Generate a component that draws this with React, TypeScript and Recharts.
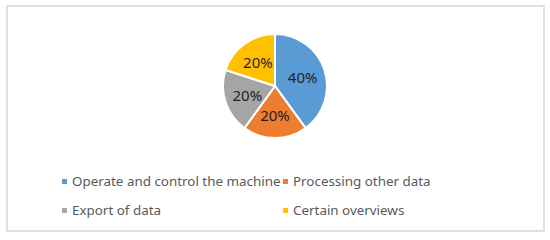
import { Cell, Legend, Pie, PieChart } from 'recharts';

const categories = ['Operate and control the machine', 'Processing other data', 'Export of data', 'Certain overviews'];
const shares = [40, 20, 20, 20];
const colors = ['#5B9BD5', '#ED7D31', '#A5A5A5', '#FFC000'];

const data = categories.map((name, i) => ({ name, value: shares[i] }));

const FONT = '"Noto Sans", "Open Sans", sans-serif';
const RAD = Math.PI / 180;

const renderLabel = (props: any) => {
    const { cx, cy, midAngle, outerRadius, value } = props;
    const r = outerRadius * 0.56;
    const x = cx + r * Math.cos(-midAngle * RAD);
    const y = cy + r * Math.sin(-midAngle * RAD);
    return (
        <text x={x} y={y} fill="#1f1f1f" fontSize={15} fontFamily={FONT} textAnchor="middle" dominantBaseline="central">
            {value}%
        </text>
    );
};

const LegendBox = () => (
    <div
        style={{
            display: 'grid',
            gridTemplateColumns: '221px 220px',
            rowGap: 9,
            fontFamily: FONT,
            fontSize: 13.4,
            color: '#595959',
        }}
    >
        {categories.map((name, i) => (
            <div key={name} style={{ display: 'flex', alignItems: 'center', height: 20 }}>
                <span style={{ width: 5, height: 5, background: colors[i], marginRight: 5, flexShrink: 0 }} />
                <span style={{ whiteSpace: 'nowrap' }}>{name}</span>
            </div>
        ))}
    </div>
);

export default function App() {
    return (
        <div style={{ position: 'relative', width: 550, height: 240, background: '#fff' }}>
            <style>{'body{margin:0}'}</style>
            <div
                style={{
                    position: 'absolute',
                    left: 6,
                    top: 5,
                    width: 535,
                    height: 223,
                    border: '2px solid #e0e0e0',
                }}
            />
            <div style={{ position: 'absolute', left: 0, top: 0 }}>
                <PieChart width={550} height={240} margin={{ top: 0, right: 0, bottom: 0, left: 0 }}>
                    <Pie
                        data={data}
                        dataKey="value"
                        nameKey="name"
                        cx={275}
                        cy={86}
                        outerRadius={52}
                        startAngle={90}
                        endAngle={-270}
                        stroke="#ffffff"
                        strokeWidth={2}
                        label={renderLabel}
                        labelLine={false}
                        isAnimationActive={false}
                    >
                        {data.map((d, i) => (
                            <Cell key={d.name} fill={colors[i]} />
                        ))}
                    </Pie>
                    <Legend
                        content={<LegendBox />}
                        verticalAlign="bottom"
                        wrapperStyle={{ position: 'absolute', top: 171, left: 62, width: 450, bottom: 'auto' }}
                    />
                </PieChart>
            </div>
        </div>
    );
}
